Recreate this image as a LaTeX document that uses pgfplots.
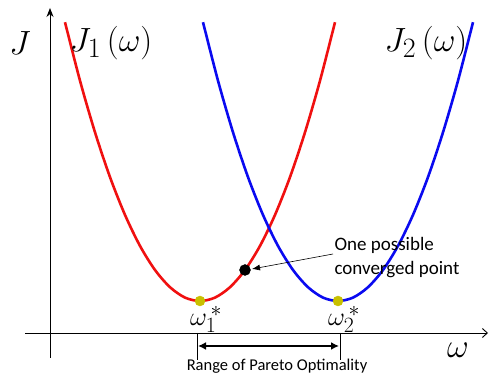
\documentclass[border=0pt]{standalone}
\usepackage{fontspec}
\setmainfont{Carlito}
\usepackage{pgfplots}
\pgfplotsset{compat=1.18}
\usetikzlibrary{arrows.meta}
\definecolor{cred}{HTML}{F01010}
\definecolor{cblue}{HTML}{0A0AF0}
\definecolor{cyel}{HTML}{C8C000}

\begin{document}
\begin{tikzpicture}
\begin{axis}[
  width=490pt, height=376pt, scale only axis,
  xmin=0, xmax=490, ymin=0, ymax=376,
  hide axis, clip=false,
]
\draw[draw=none] (axis cs:0,0) rectangle (axis cs:490,376);
% axes
\draw[line width=0.9pt, -{Stealth[length=9pt,width=7pt]}] (axis cs:50,18) -- (axis cs:50,368);
\draw[line width=0.9pt, -{Straight Barb[length=5pt,width=9pt]}] (axis cs:25,43) -- (axis cs:488,43);

% J1
\addplot[cred, line width=2.6pt, smooth] coordinates {
  (65,353.8) (80,295.3) (95,243.7) (110,198.9) (125,161.1) (140,130.1)
  (155,106.0) (170,88.8) (185,78.4) (200,75) (215,78.4) (230,88.8)
  (245,106.0) (260,130.1) (275,161.1) (290,198.9) (305,243.7) (320,295.3) (335,353.8)
};
% J2
\addplot[cblue, line width=2.6pt, smooth] coordinates {
  (203,353.8) (218,295.3) (233,243.7) (248,198.9) (263,161.1) (278,130.1)
  (293,106.0) (308,88.8) (323,78.4) (338,75) (353,78.4) (368,88.8)
  (383,106.0) (398,130.1) (413,161.1) (428,198.9) (443,243.7) (458,295.3) (473,353.8)
};
% minima
\addplot[only marks, mark=*, mark size=5pt, cyel, mark options={draw=none}] coordinates {(200,75) (338,75)};
% converged point
\addplot[only marks, mark=*, mark size=5.5pt, black] coordinates {(245,106)};

\draw[line width=0.6pt, -{Latex[length=8pt,width=6pt]}] (axis cs:333,122) -- (axis cs:252,107);
\node[anchor=west, align=left, font=\fontsize{19}{24}\selectfont] at (axis cs:331,118) {One possible\\converged point};

% range
\draw[line width=0.6pt] (axis cs:197,43) -- (axis cs:197,16);
\draw[line width=0.6pt] (axis cs:340,43) -- (axis cs:340,16);
\draw[line width=2.4pt, {Latex[length=8pt,width=8pt]}-{Latex[length=8pt,width=8pt]}] (axis cs:198,30) -- (axis cs:339,30);
\node[font=\fontsize{16.5}{18}\selectfont] at (axis cs:277,10) {Range of Pareto Optimality};

% labels
\node[font=\Huge, scale=1.35] at (axis cs:20,333) {$J$};
\node[font=\Huge, scale=1.35] at (axis cs:111,333) {$J_1\,(\omega)$};
\node[font=\Huge, scale=1.35] at (axis cs:426,333) {$J_2\,(\omega)$};
\node[font=\Huge, scale=1.05] at (axis cs:206,57) {$\omega_1^{\,*}$};
\node[font=\Huge, scale=1.05] at (axis cs:344,57) {$\omega_2^{\,*}$};
\node[font=\Huge, scale=1.35] at (axis cs:458,26) {$\omega$};
\end{axis}
\end{tikzpicture}
\end{document}
